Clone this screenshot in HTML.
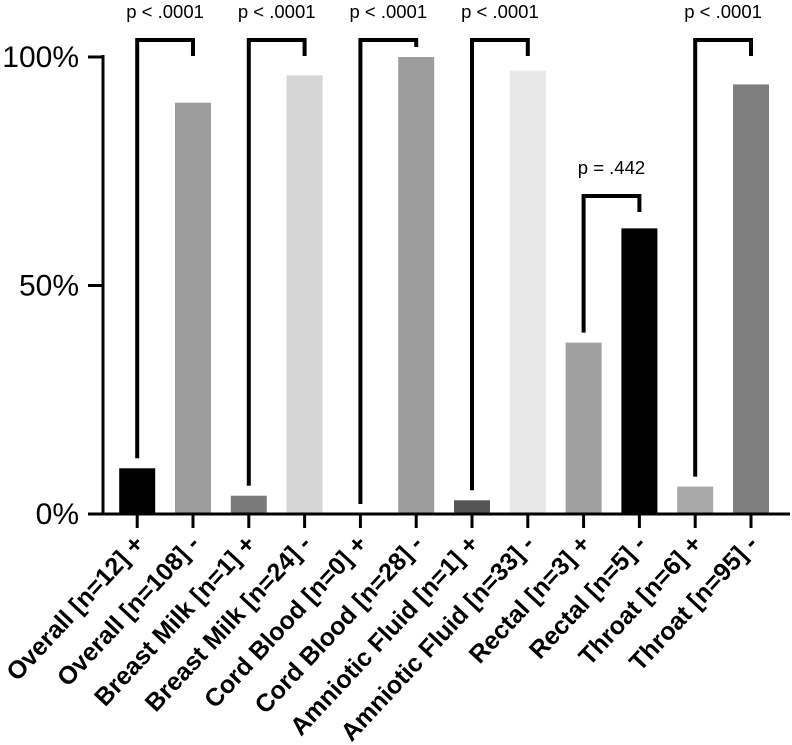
<!DOCTYPE html>
<html><head><meta charset="utf-8"><style>
body{margin:0;background:#fff}
svg{display:block;font-family:"Liberation Sans",Arial,sans-serif}
</style></head><body>
<svg id="c" width="792" height="745"></svg>
<script>
const categories=["Overall [n=12] +","Overall [n=108] -","Breast Milk [n=1] +","Breast Milk [n=24] -","Cord Blood [n=0] +","Cord Blood [n=28] -","Amniotic Fluid [n=1] +","Amniotic Fluid [n=33] -","Rectal [n=3] +","Rectal [n=5] -","Throat [n=6] +","Throat [n=95] -"];
const values=[10,90,4,96,0,100,3,97,37.5,62.5,6,94];
const colors=["#000","#9c9c9c","#7a7a7a","#d6d6d6","#999","#9c9c9c","#555","#e8e8e8","#a0a0a0","#000","#a8a8a8","#7f7f7f"];
const yTicks=[0,50,100];
const pairLabels=["p < .0001","p < .0001","p < .0001","p < .0001","p = .442","p < .0001"];
const NS="http://www.w3.org/2000/svg",svg=document.getElementById("c");
const x0=137.2,step=55.8,bw=36,yb=514,yt=57;
const X=i=>x0+i*step, Y=v=>yb-(yb-yt)*v/100;
function mk(t,a,p){const e=document.createElementNS(NS,t);for(const k in a)e.setAttribute(k,a[k]);(p||svg).appendChild(e);return e;}
values.forEach((v,i)=>{
 if(v<=0)return;
 const r=mk("rect",{x:X(i)-bw/2,y:Y(v),width:bw,height:yb-Y(v),fill:colors[i]});
 
 
});
const ya=mk("line",{x1:103,y1:55,x2:103,y2:515.5,stroke:"#000","stroke-width":3});

const xa=mk("line",{x1:101.5,y1:514,x2:790,y2:514,stroke:"#000","stroke-width":3});

yTicks.forEach(t=>{
 mk("line",{x1:88,y1:Y(t),x2:103,y2:Y(t),stroke:"#000","stroke-width":3});
 const tx=mk("text",{x:79,y:Y(t)+10,"text-anchor":"end","font-size":30});
 tx.textContent=t+"%";
 
});
categories.forEach((c,i)=>{
 mk("line",{x1:X(i),y1:514,x2:X(i),y2:528,stroke:"#000","stroke-width":3});
 const ax=X(i)+8, ay=545;
 const tx=mk("text",{x:ax,y:ay,"text-anchor":"end","font-size":25,"font-weight":"bold",transform:`rotate(-47 ${ax} ${ay})`});
 tx.textContent=c;
 
});
pairLabels.forEach((p,k)=>{
 const a=2*k,b=2*k+1;
 const by=k===4?196:40;
 const g=mk("g",{});
 
 
 mk("polyline",{points:`${X(a)},${Y(values[a])-10} ${X(a)},${by} ${X(b)},${by} ${X(b)},${Math.min(Y(values[b])-10,by+16)}`,fill:"none",stroke:"#000","stroke-width":4},g);
 const t=mk("text",{x:(X(a)+X(b))/2,y:by-22,"text-anchor":"middle","font-size":18.5},g);
 t.textContent=p;
});
</script>
</body></html>
